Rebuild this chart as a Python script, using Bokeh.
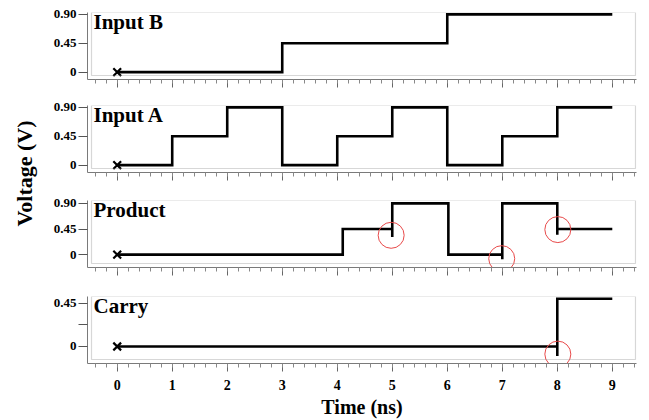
import math
from bokeh.plotting import figure
from bokeh.layouts import row, column
from bokeh.models import (Range1d, BoxAnnotation, Label, FixedTicker,
                          SingleIntervalTicker, CustomLabelingPolicy)
from bokeh.embed import file_html
from bokeh.resources import INLINE

# ---------------- data ----------------
panel_names = ["Input B", "Input A", "Product", "Carry"]

t_b = [0, 3, 3, 6, 6, 9]
v_b = [0, 0, 0.45, 0.45, 0.9, 0.9]

t_a = [0, 1, 1, 2, 2, 3, 3, 4, 4, 5, 5, 6, 6, 7, 7, 8, 8, 9]
v_a = [0, 0, 0.45, 0.45, 0.9, 0.9, 0, 0, 0.45, 0.45, 0.9, 0.9, 0, 0, 0.45, 0.45, 0.9, 0.9]

t_p = [0, 4.1, 4.1, 5.0, 5.0, 5.0, 6.02, 6.02, 7.0, 7.0, 7.0, 8.0, 8.0, 8.0, 9.0]
v_p = [0, 0, 0.45, 0.45, 0.31, 0.9, 0.9, 0, 0, -0.08, 0.9, 0.9, 0.35, 0.45, 0.45]

t_c = [0, 8.0, 8.0, 8.0, 9.0]
v_c = [0, 0, -0.1, 0.5, 0.5]

glitch_p_t = [4.98, 6.99, 8.01]
glitch_p_v = [0.34, -0.07, 0.44]
glitch_c_t = [8.01]
glitch_c_v = [-0.08]

start_t = [0]
start_v = [0]

yticks_full = [0, 0.45, 0.9]
yticks_full_labels = {0: "0", 0.45: "0.45", 0.9: "0.90"}
yticks_carry = [0, 0.45]
yticks_carry_minor = [0.225]
yticks_carry_labels = {0: "0", 0.45: "0.45"}

x_label = "Time (ns)"
y_label = "Voltage (V)"

# ---------------- style ----------------
SERIF = "Liberation Serif"
GRAY = "#7a7a7a"
FRAME_W = 549
FRAME_H = 67
x_range = Range1d(-0.54, 9.44)

hide_labels = CustomLabelingPolicy(
    code="for (const i of indices) { indices.unset(i) } return indices")

def make_panel(name, t, v, y0, y1, ticks, labels, minor, top, bottom,
               glitches=None, show_xlabels=False):
    p = figure(frame_width=FRAME_W, frame_height=FRAME_H,
               x_range=x_range, y_range=Range1d(y0, y1),
               toolbar_location=None, output_backend="svg",
               min_border_left=39, min_border_right=5,
               min_border_top=top, min_border_bottom=bottom)
    p.outline_line_color = None
    p.grid.visible = False
    p.background_fill_color = "white"
    p.border_fill_color = "white"

    px_x = (x_range.end - x_range.start) / FRAME_W   # data units per pixel
    px_y = (y1 - y0) / FRAME_H

    # visible frame box (detached from the axes by a small gap)
    p.add_layout(BoxAnnotation(left=x_range.start + 4 * px_x,
                               right=x_range.end - 1 * px_x,
                               bottom=y0 + 4 * px_y, top=y1,
                               fill_color=None, fill_alpha=0,
                               line_color=GRAY, line_width=1.2))

    p.line(t, v, line_color="black", line_width=2.6, line_join="miter")
    p.scatter(start_t, start_v, marker="x", size=11, line_color="black",
              line_width=2.2)
    if glitches:
        p.scatter(glitches[0], glitches[1], marker="circle", size=26,
                  fill_color=None, line_color="#e84a4a", line_width=1.0)

    p.add_layout(Label(x=x_range.start + 6 * px_x, y=y1 - 9 * px_y,
                       text=name, text_font=SERIF, text_font_style="bold",
                       text_font_size="21px", text_color="black",
                       text_baseline="alphabetic", text_align="left"))

    # y axis
    ya = p.yaxis[0]
    ya.ticker = FixedTicker(ticks=ticks, minor_ticks=minor)
    ya.major_label_overrides = labels
    ya.major_label_text_font = SERIF
    ya.major_label_text_font_style = "bold"
    ya.major_label_text_font_size = "13px"
    ya.major_label_text_color = "black"
    ya.major_label_standoff = 2
    ya.axis_line_color = GRAY
    ya.major_tick_line_color = "#555555"
    ya.minor_tick_line_color = "#555555"
    ya.major_tick_out = 9
    ya.major_tick_in = 0
    ya.minor_tick_out = 9
    ya.minor_tick_in = 0

    # x axis
    xa = p.xaxis[0]
    xa.ticker = SingleIntervalTicker(interval=1, num_minor_ticks=5)
    xa.axis_line_color = GRAY
    xa.major_tick_line_color = "#666666"
    xa.minor_tick_line_color = "#888888"
    xa.major_tick_out = 8
    xa.major_tick_in = 0
    xa.minor_tick_out = 4
    xa.minor_tick_in = 0
    if show_xlabels:
        xa.major_label_text_font = SERIF
        xa.major_label_text_font_style = "bold"
        xa.major_label_text_font_size = "14px"
        xa.major_label_text_color = "black"
        xa.major_label_standoff = 8
        xa.axis_label = x_label
        xa.axis_label_text_font = SERIF
        xa.axis_label_text_font_style = "bold"
        xa.axis_label_text_font_size = "20px"
        xa.axis_label_text_color = "black"
        xa.axis_label_standoff = 3
    else:
        xa.major_label_policy = hide_labels
        xa.major_label_text_font_size = "12px"
        xa.major_label_standoff = 0
    return p

p1 = make_panel(panel_names[0], t_b, v_b, -0.115, 0.93, yticks_full,
                yticks_full_labels, [], 12, 17)
p2 = make_panel(panel_names[1], t_a, v_a, -0.115, 0.93, yticks_full,
                yticks_full_labels, [], 6, 22)
p3 = make_panel(panel_names[2], t_p, v_p, -0.225, 0.95, yticks_full,
                yticks_full_labels, [], 6, 23,
                glitches=(glitch_p_t, glitch_p_v))
p4 = make_panel(panel_names[3], t_c, v_c, -0.178, 0.523, yticks_carry,
                yticks_carry_labels, yticks_carry_minor, 6, 56,
                glitches=(glitch_c_t, glitch_c_v), show_xlabels=True)

TOTAL_H = 416
ylab = figure(width=48, height=TOTAL_H, toolbar_location=None,
              output_backend="svg", x_range=Range1d(0, 1), y_range=Range1d(0, 1),
              min_border=0, min_border_left=0, min_border_right=0,
              min_border_top=0, min_border_bottom=0)
ylab.axis.visible = False
ylab.grid.visible = False
ylab.outline_line_color = None
ylab.add_layout(Label(x=24, y=TOTAL_H - 173, x_units="screen", y_units="screen",
                      text=y_label, angle=math.pi / 2, text_font=SERIF,
                      text_font_style="bold", text_font_size="22px",
                      text_color="black", text_align="center",
                      text_baseline="middle"))

layout = row(ylab, column(p1, p2, p3, p4, spacing=0), spacing=0)

with open("out.html", "w") as f:
    f.write(file_html(layout, INLINE))
